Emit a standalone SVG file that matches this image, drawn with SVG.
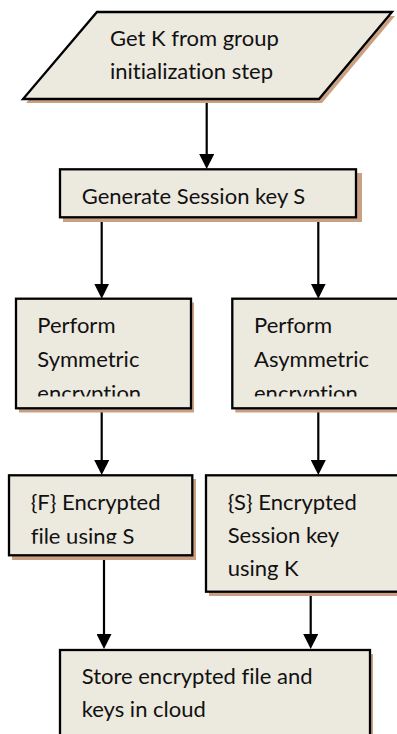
<svg xmlns="http://www.w3.org/2000/svg" width="397" height="734" viewBox="0 0 397 734">
<style>
.shadow{fill:#c9a083;stroke:none}
.box{fill:#ecE9df;stroke:#000;stroke-width:2.3}
.t{font-family:Lato,"Liberation Sans",sans-serif;font-size:22px;fill:#111;font-variant-ligatures:none}
.c{stroke:#000;stroke-width:2.2;fill:none}
</style>
<defs>
<marker id="ah" viewBox="0 0 15 15" refX="5" refY="7.5" markerWidth="15" markerHeight="15" markerUnits="userSpaceOnUse" orient="auto">
<path d="M0,0 L15,7.5 L0,15 z" fill="#000"/>
</marker>
<clipPath id="clipSym"><rect x="16" y="299" width="175" height="97.5"/></clipPath>
<clipPath id="clipAsym"><rect x="232" y="299" width="170" height="97.5"/></clipPath>
<clipPath id="clipF"><rect x="9" y="476" width="183" height="67.8"/></clipPath>
</defs>
<rect width="397" height="734" fill="#fff"/>

<g id="connectors">
<line class="c" x1="206.7" y1="100" x2="206.7" y2="159" marker-end="url(#ah)"/>
<line class="c" x1="101.7" y1="222" x2="101.7" y2="288.7" marker-end="url(#ah)"/>
<line class="c" x1="318.3" y1="222" x2="318.3" y2="288.7" marker-end="url(#ah)"/>
<line class="c" x1="101.7" y1="412" x2="101.7" y2="465" marker-end="url(#ah)"/>
<line class="c" x1="318.3" y1="412" x2="318.3" y2="465" marker-end="url(#ah)"/>
<line class="c" x1="104" y1="560" x2="104" y2="639" marker-end="url(#ah)"/>
<line class="c" x1="310.7" y1="595" x2="310.7" y2="639" marker-end="url(#ah)"/>
</g>

<g id="getK">
<polygon class="shadow" points="100,16 395,16 322,103 26,103"/>
<polygon class="box" points="97,12 392,12 319,99 23,99"/>
<text class="t" x="110" y="46">Get K from group</text>
<text class="t" x="110" y="79">initialization step</text>
</g>

<g id="genS">
<rect class="shadow" x="63" y="173" width="299" height="49"/>
<rect class="box" x="60" y="169.3" width="296" height="48"/>
<text class="t" x="81.7" y="204">Generate Session key S</text>
</g>

<g id="symEnc">
<rect class="shadow" x="19" y="302.5" width="175" height="110"/>
<rect class="box" x="16" y="298.7" width="175" height="109.6"/>
<g clip-path="url(#clipSym)">
<text class="t" x="37.3" y="332.7">Perform</text>
<text class="t" x="37.3" y="366.7">Symmetric</text>
<text class="t" x="37.3" y="400.7">encryption</text>
</g>
</g>

<g id="asymEnc">
<rect class="shadow" x="235.3" y="302.5" width="180" height="110"/>
<rect class="box" x="232.3" y="298.7" width="180" height="109.6"/>
<g clip-path="url(#clipAsym)">
<text class="t" x="254" y="332.7">Perform</text>
<text class="t" x="254" y="366.7">Asymmetric</text>
<text class="t" x="254" y="400.7">encryption</text>
</g>
</g>

<g id="encF">
<rect class="shadow" x="12" y="479" width="184" height="81"/>
<rect class="box" x="9" y="475.3" width="183.3" height="80"/>
<g clip-path="url(#clipF)">
<text class="t" x="30.7" y="510">{F} Encrypted</text>
<text class="t" x="30.7" y="544">file using S</text>
</g>
</g>

<g id="encS">
<rect class="shadow" x="209" y="479" width="200" height="117"/>
<rect class="box" x="206" y="475.3" width="200" height="116.4"/>
<text class="t" x="227.7" y="510">{S} Encrypted</text>
<text class="t" x="227.7" y="543.3">Session key</text>
<text class="t" x="227.7" y="576">using K</text>
</g>

<g id="store">
<rect class="shadow" x="63" y="654" width="310" height="90"/>
<rect class="box" x="60" y="650" width="310" height="90"/>
<text class="t" x="81.7" y="684">Store encrypted file and</text>
<text class="t" x="81.7" y="716.7">keys in cloud</text>
</g>
</svg>
